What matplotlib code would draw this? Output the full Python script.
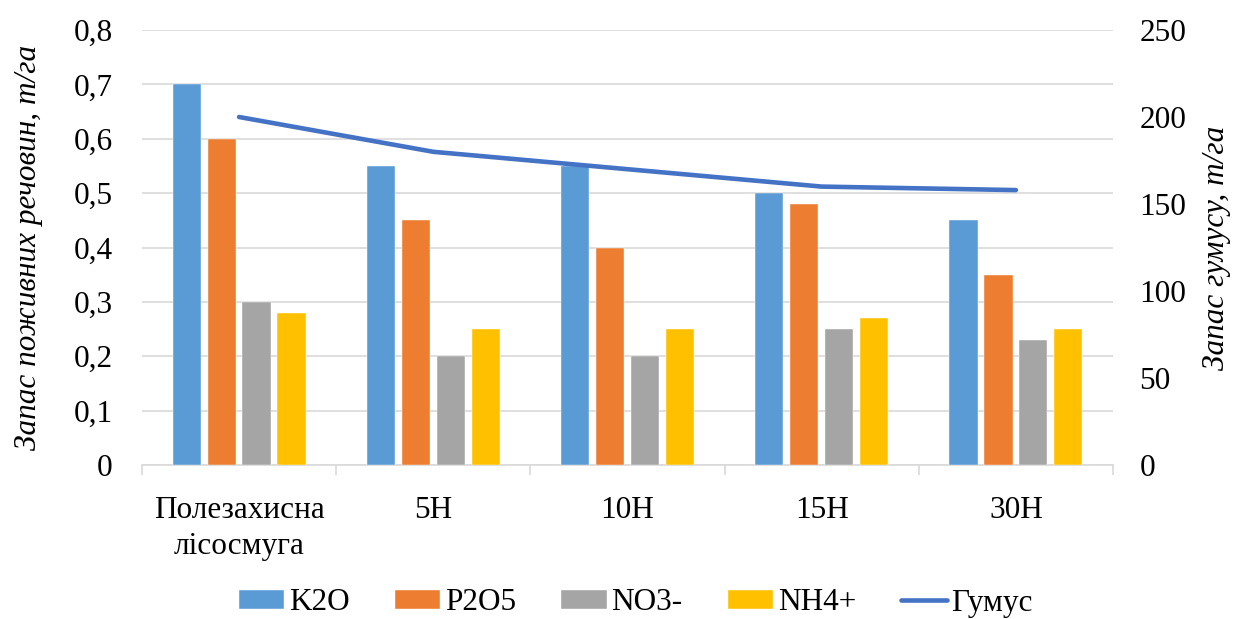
import matplotlib
matplotlib.use("Agg")
import matplotlib.pyplot as plt
import numpy as np

plt.rcParams['font.family'] = ['Liberation Serif', 'DejaVu Serif']

categories = ["Полезахисна\nлісосмуга", "5Н", "10Н", "15Н", "30Н"]
k2o = [0.70, 0.55, 0.55, 0.50, 0.45]
p2o5 = [0.60, 0.45, 0.40, 0.48, 0.35]
no3 = [0.30, 0.20, 0.20, 0.25, 0.23]
nh4 = [0.28, 0.25, 0.25, 0.27, 0.25]
humus = [200, 180, 170, 160, 158]

series = [("K2O", k2o, "#5B9BD5"), ("P2O5", p2o5, "#ED7D31"),
          ("NO3-", no3, "#A5A5A5"), ("NH4+", nh4, "#FFC000")]

FS = 22.5
W, H = 1233, 619
fig = plt.figure(figsize=(W / 100, H / 100), dpi=100)
ax = fig.add_axes([142 / W, 1 - 465 / H, (1113 - 142) / W, (465 - 30) / H])
ax2 = ax.twinx()

x = np.arange(len(categories))
step = 0.18
width = 0.145
handles = []
for i, (name, vals, col) in enumerate(series):
    h = ax.bar(x + (i - 1.5) * step, vals, width, color=col, label=name,
               zorder=3, edgecolor='white', linewidth=0.3)
    handles.append(h)

line, = ax2.plot(x, humus, color="#4472C4", linewidth=3.3,
                 solid_capstyle='round', solid_joinstyle='round', label="Гумус",
                 zorder=4)
handles.append(line)

ax.set_xlim(-0.5, len(categories) - 0.5)
ax.set_ylim(0, 0.8)
ax2.set_ylim(0, 250)
ax.set_yticks(np.arange(0, 0.81, 0.1))
ax.set_yticklabels([("%.1f" % v).replace(".", ",") if v > 0 else "0"
                    for v in np.arange(0, 0.81, 0.1)])
ax2.set_yticks(np.arange(0, 251, 50))

ax.grid(axis='y', color="#D9D9D9", linewidth=1.2, zorder=0)
ax.set_axisbelow(True)

for a in (ax, ax2):
    for s in ("top", "left", "right", "bottom"):
        a.spines[s].set_visible(False)
    a.tick_params(axis='y', length=0, labelsize=FS)

ax.spines["bottom"].set_visible(True)
ax.spines["bottom"].set_color("#D9D9D9")
ax.spines["bottom"].set_linewidth(1.2)

ax.set_xticks(x)
ax.set_xticklabels(categories, fontsize=FS, linespacing=1.35)
ax.tick_params(axis='x', length=0, pad=22)
ax.set_xticks(np.arange(-0.5, len(categories), 1.0), minor=True)
ax.tick_params(axis='x', which='minor', length=7, color="#D9D9D9", width=1.2)
ax.tick_params(axis='y', pad=21)
ax2.tick_params(axis='y', pad=19)

ax.set_ylabel("Запас поживних речовин, т/га", fontsize=FS, style='italic',
              labelpad=22)
ax2.set_ylabel("Запас гумусу, т/га", fontsize=FS, style='italic',
               labelpad=11)

fig.legend(handles=handles, labels=[h.get_label() for h in handles],
           loc='center', bbox_to_anchor=(636 / W, 1 - 603 / H), ncol=5,
           frameon=False, fontsize=FS, handlelength=1.45, handleheight=0.6,
           handletextpad=0.15, columnspacing=1.45)

fig.savefig("out.png", dpi=100)
